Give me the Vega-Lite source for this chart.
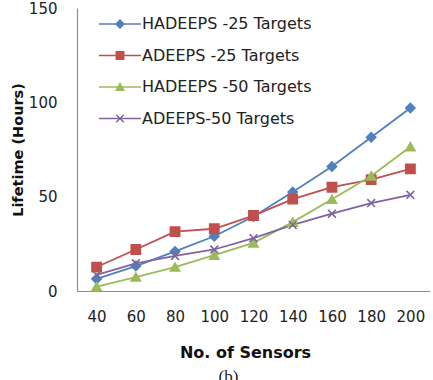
{
  "$schema": "https://vega.github.io/schema/vega-lite/v6.json",
  "width": 353,
  "height": 283,
  "autosize": "none",
  "padding": {"left": 77, "top": 8, "right": 3, "bottom": 89},
  "background": "white",
  "config": {
    "view": {"stroke": null},
    "font": "DejaVu Sans"
  },
  "title": {
    "text": "(b)",
    "orient": "bottom",
    "font": "Liberation Serif",
    "fontSize": 17,
    "fontWeight": "normal",
    "color": "#222",
    "offset": 9,
    "dx": -25
  },
  "data": {
    "values": [
      {"sensors": 40, "series": "HADEEPS -25 Targets", "lifetime": 6.4},
      {"sensors": 60, "series": "HADEEPS -25 Targets", "lifetime": 13.2},
      {"sensors": 80, "series": "HADEEPS -25 Targets", "lifetime": 21},
      {"sensors": 100, "series": "HADEEPS -25 Targets", "lifetime": 29},
      {"sensors": 120, "series": "HADEEPS -25 Targets", "lifetime": 39.5},
      {"sensors": 140, "series": "HADEEPS -25 Targets", "lifetime": 52.5},
      {"sensors": 160, "series": "HADEEPS -25 Targets", "lifetime": 66},
      {"sensors": 180, "series": "HADEEPS -25 Targets", "lifetime": 81.5},
      {"sensors": 200, "series": "HADEEPS -25 Targets", "lifetime": 97},
      {"sensors": 40, "series": "ADEEPS -25 Targets", "lifetime": 12.7},
      {"sensors": 60, "series": "ADEEPS -25 Targets", "lifetime": 22},
      {"sensors": 80, "series": "ADEEPS -25 Targets", "lifetime": 31.5},
      {"sensors": 100, "series": "ADEEPS -25 Targets", "lifetime": 33},
      {"sensors": 120, "series": "ADEEPS -25 Targets", "lifetime": 40},
      {"sensors": 140, "series": "ADEEPS -25 Targets", "lifetime": 48.7},
      {"sensors": 160, "series": "ADEEPS -25 Targets", "lifetime": 55},
      {"sensors": 180, "series": "ADEEPS -25 Targets", "lifetime": 59},
      {"sensors": 200, "series": "ADEEPS -25 Targets", "lifetime": 64.7},
      {"sensors": 40, "series": "HADEEPS -50 Targets", "lifetime": 2.3},
      {"sensors": 60, "series": "HADEEPS -50 Targets", "lifetime": 7.4},
      {"sensors": 80, "series": "HADEEPS -50 Targets", "lifetime": 12.7},
      {"sensors": 100, "series": "HADEEPS -50 Targets", "lifetime": 19},
      {"sensors": 120, "series": "HADEEPS -50 Targets", "lifetime": 25.5},
      {"sensors": 140, "series": "HADEEPS -50 Targets", "lifetime": 36.5},
      {"sensors": 160, "series": "HADEEPS -50 Targets", "lifetime": 48.6},
      {"sensors": 180, "series": "HADEEPS -50 Targets", "lifetime": 61},
      {"sensors": 200, "series": "HADEEPS -50 Targets", "lifetime": 76.5},
      {"sensors": 40, "series": "ADEEPS-50 Targets", "lifetime": 8.5},
      {"sensors": 60, "series": "ADEEPS-50 Targets", "lifetime": 14.7},
      {"sensors": 80, "series": "ADEEPS-50 Targets", "lifetime": 18.6},
      {"sensors": 100, "series": "ADEEPS-50 Targets", "lifetime": 22},
      {"sensors": 120, "series": "ADEEPS-50 Targets", "lifetime": 28},
      {"sensors": 140, "series": "ADEEPS-50 Targets", "lifetime": 35},
      {"sensors": 160, "series": "ADEEPS-50 Targets", "lifetime": 41},
      {"sensors": 180, "series": "ADEEPS-50 Targets", "lifetime": 46.6},
      {"sensors": 200, "series": "ADEEPS-50 Targets", "lifetime": 51}
    ]
  },
  "encoding": {
    "x": {
      "field": "sensors",
      "type": "ordinal",
      "scale": {"type": "point", "padding": 0.5},
      "axis": {
        "title": "No. of Sensors",
        "titleFont": "DejaVu Sans",
        "titleFontSize": 16,
        "titleFontWeight": "bold",
        "titleColor": "#111",
        "titleX": 168,
        "titleY": 66,
        "titleBaseline": "alphabetic",
        "labelAngle": 0,
        "labelFontSize": 15,
        "labelColor": "#222",
        "labelPadding": 18,
        "ticks": false,
        "domainColor": "#8c8c8c",
        "domainWidth": 1.2,
        "grid": false
      }
    },
    "y": {
      "field": "lifetime",
      "type": "quantitative",
      "scale": {"domain": [0, 150], "nice": false},
      "axis": {
        "title": "Lifetime (Hours)",
        "titleFont": "DejaVu Sans",
        "titleFontSize": 14.5,
        "titleFontWeight": "bold",
        "titleColor": "#111",
        "titleAngle": 270,
        "titleX": -55,
        "titleY": 141.5,
        "titleBaseline": "alphabetic",
        "titleAlign": "center",
        "values": [0, 50, 100, 150],
        "labelFontSize": 15,
        "labelColor": "#222",
        "labelPadding": 20,
        "ticks": false,
        "domainColor": "#8c8c8c",
        "domainWidth": 1.2,
        "grid": false
      }
    },
    "color": {
      "field": "series",
      "type": "nominal",
      "scale": {
        "domain": ["HADEEPS -25 Targets", "ADEEPS -25 Targets", "HADEEPS -50 Targets", "ADEEPS-50 Targets"],
        "range": ["#4F81BD", "#C0504D", "#9BBB59", "#8064A2"]
      },
      "legend": null
    }
  },
  "layer": [
    {
      "mark": {"type": "line", "strokeWidth": 1.8}
    },
    {
      "mark": {"type": "point", "filled": true, "size": 85, "opacity": 1, "strokeWidth": 1.6},
      "encoding": {
        "shape": {
          "field": "series",
          "type": "nominal",
          "scale": {
            "domain": ["HADEEPS -25 Targets", "ADEEPS -25 Targets", "HADEEPS -50 Targets", "ADEEPS-50 Targets"],
            "range": ["diamond", "square", "triangle-up", "M-0.85,-0.85L0.85,0.85M-0.85,0.85L0.85,-0.85"]
          },
          "legend": null
        },
        "stroke": {
          "field": "series",
          "type": "nominal",
          "scale": {
            "domain": ["HADEEPS -25 Targets", "ADEEPS -25 Targets", "HADEEPS -50 Targets", "ADEEPS-50 Targets"],
            "range": ["#4F81BD", "#C0504D", "#9BBB59", "#8064A2"]
          },
          "legend": null
        }
      }
    },
    {
      "description": "Key only: transparent marks whose legend shows a line sample with each series marker.",
      "mark": {"type": "point", "filled": true, "opacity": 0, "size": 100},
      "encoding": {
        "color": {
          "field": "series",
          "type": "nominal",
          "scale": {
            "domain": ["HADEEPS -25 Targets", "ADEEPS -25 Targets", "HADEEPS -50 Targets", "ADEEPS-50 Targets"],
            "range": ["#4F81BD", "#C0504D", "#9BBB59", "#8064A2"]
          },
          "legend": {
            "title": null,
            "orient": "none",
            "legendX": 35,
            "legendY": 8,
            "padding": 0,
            "symbolSize": 100,
            "symbolOpacity": 1,
            "symbolStrokeWidth": 0,
            "labelOffset": 14,
            "rowPadding": 15.5,
            "labelFont": "DejaVu Sans",
            "labelFontSize": 16,
            "labelColor": "#222",
            "labelLimit": 300
          }
        },
        "shape": {
          "field": "series",
          "type": "nominal",
          "scale": {
            "domain": ["HADEEPS -25 Targets", "ADEEPS -25 Targets", "HADEEPS -50 Targets", "ADEEPS-50 Targets"],
            "range": [
              "M-4.2,-0.16L4.2,-0.16L4.2,0.16L-4.2,0.16ZM0,-1L1,0L0,1L-1,0Z",
              "M-4.2,-0.16L4.2,-0.16L4.2,0.16L-4.2,0.16ZM-0.9,-0.9L0.9,-0.9L0.9,0.9L-0.9,0.9Z",
              "M-4.2,-0.16L4.2,-0.16L4.2,0.16L-4.2,0.16ZM0,-1L1,0.8L-1,0.8Z",
              "M-4.2,-0.16L4.2,-0.16L4.2,0.16L-4.2,0.16ZM-0.85,-0.65L-0.65,-0.85L0.85,0.65L0.65,0.85ZM0.65,-0.85L0.85,-0.65L-0.65,0.85L-0.85,0.65Z"
            ]
          },
          "legend": {
            "title": null,
            "orient": "none",
            "legendX": 35,
            "legendY": 8,
            "padding": 0,
            "symbolSize": 100,
            "symbolOpacity": 1,
            "symbolStrokeWidth": 0,
            "labelOffset": 14,
            "rowPadding": 15.5,
            "labelFont": "DejaVu Sans",
            "labelFontSize": 16,
            "labelColor": "#222",
            "labelLimit": 300
          }
        }
      }
    }
  ],
  "resolve": {
    "scale": {"color": "independent", "shape": "independent", "stroke": "independent"},
    "legend": {"color": "independent", "shape": "independent"}
  }
}
